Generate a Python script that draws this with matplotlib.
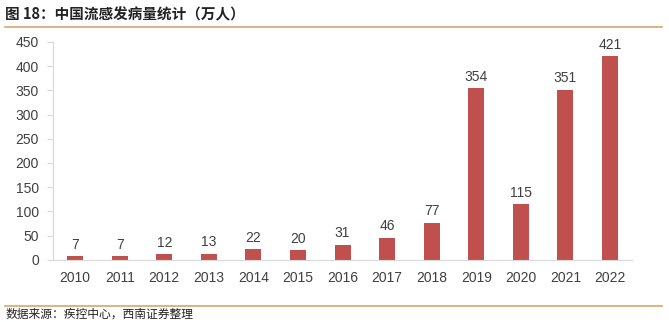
import matplotlib.pyplot as plt
from matplotlib.lines import Line2D

plt.rcParams['font.family'] = ['Noto Sans CJK SC', 'DejaVu Sans']

years = ['2010', '2011', '2012', '2013', '2014', '2015', '2016',
         '2017', '2018', '2019', '2020', '2021', '2022']
cases = [7, 7, 12, 13, 22, 20, 31, 46, 77, 354, 115, 351, 421]
yticks = [0, 50, 100, 150, 200, 250, 300, 350, 400, 450]

bar_color = '#C0504D'
text_color = '#404040'
rule_color = '#D4A86A'

fig = plt.figure(figsize=(6.69, 3.22), dpi=100)
ax = fig.add_axes([0.079, 0.193, 0.866, 0.677])

x = range(len(years))
ax.bar(x, cases, width=0.36, color=bar_color, zorder=2)
for xi, v in zip(x, cases):
    ax.text(xi, v + 9, str(v), ha='center', va='bottom', fontsize=10,
            color=text_color, family='Liberation Sans')

ax.set_xlim(-0.5, len(years) - 0.5)
ax.set_ylim(0, 450)
ax.set_yticks(yticks)
ax.set_xticks(list(x))
ax.set_xticklabels(years)
for lab in ax.get_xticklabels() + ax.get_yticklabels():
    lab.set_family('Liberation Sans')
    lab.set_fontsize(10)
    lab.set_color(text_color)

for side in ['top', 'right']:
    ax.spines[side].set_visible(False)
ax.spines['left'].set_color('#D9D9D9')
ax.spines['bottom'].set_color('#D9D9D9')
ax.tick_params(axis='y', length=4, color='#D9D9D9', pad=6)
ax.tick_params(axis='x', length=0, pad=8)

fig.text(0.008, 0.955, '图 18：中国流感发病量统计（万人）', fontsize=10.5,
         fontweight='bold', color='#222222', va='center')
fig.add_artist(Line2D([0.008, 0.99], [0.915, 0.915], color=rule_color, lw=1.2,
                      transform=fig.transFigure))
fig.add_artist(Line2D([0.008, 0.99], [0.05, 0.05], color=rule_color, lw=1.2,
                      transform=fig.transFigure))
fig.text(0.008, 0.024, '数据来源：疾控中心，西南证券整理', fontsize=8.5,
         style='italic', color='#222222', va='center')

fig.savefig('out.png', dpi=100)
